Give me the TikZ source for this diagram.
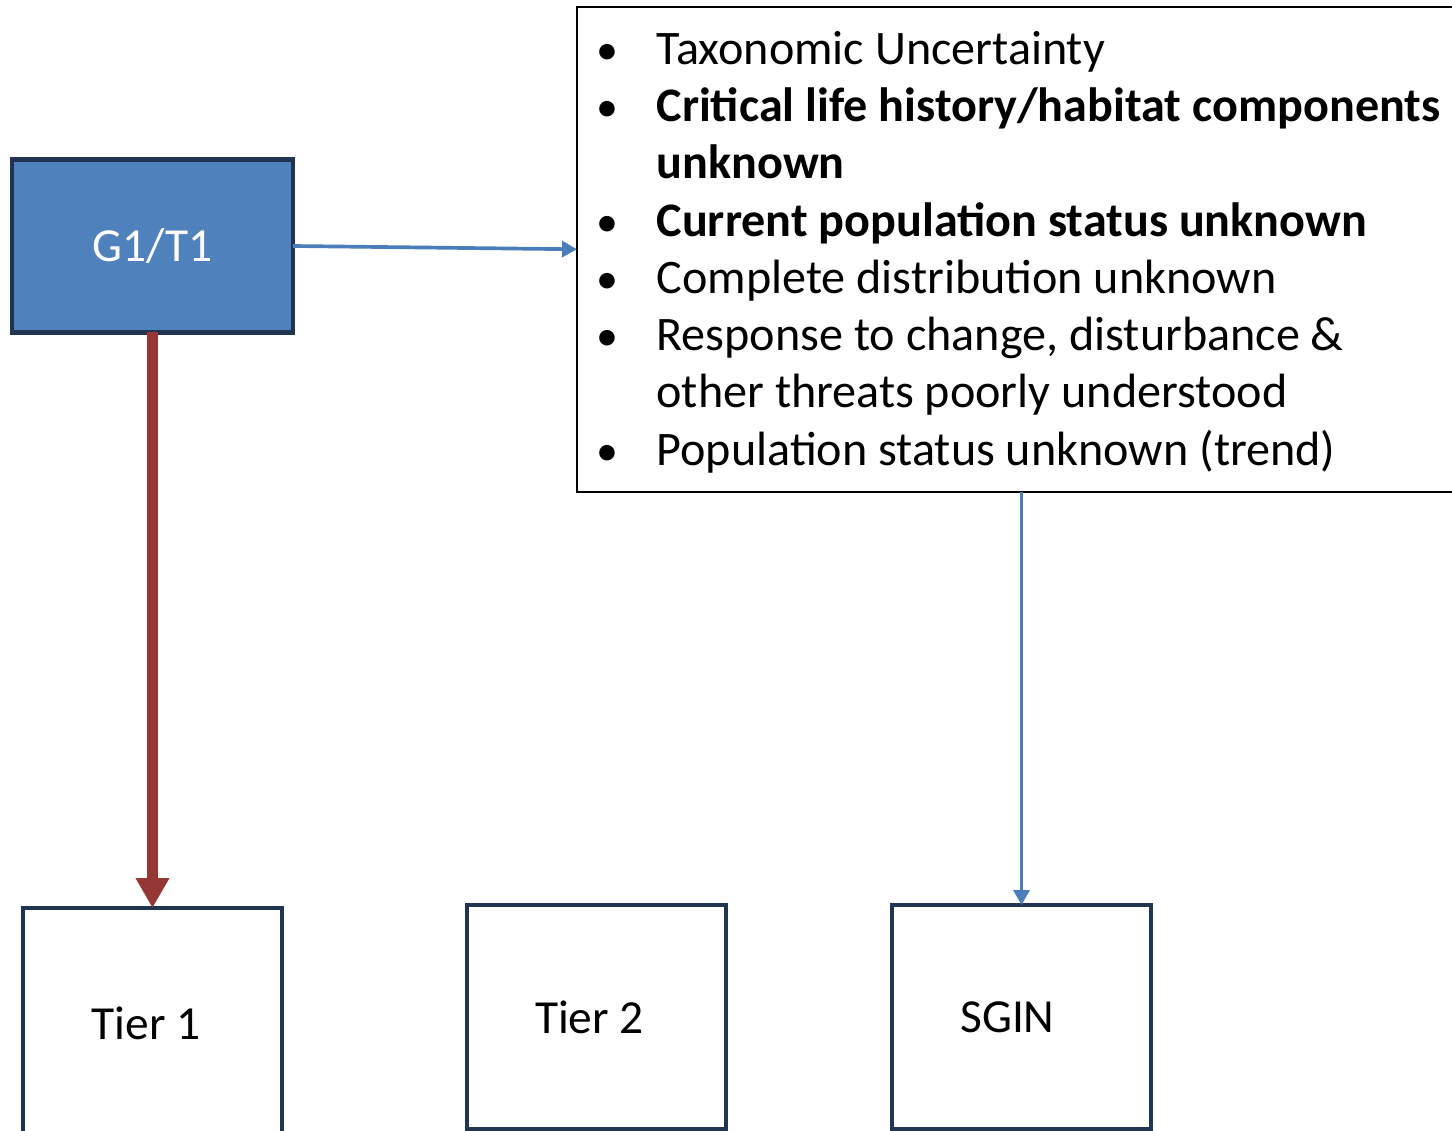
\documentclass[tikz,border=0pt]{standalone}
\usepackage{fontspec}
\setmainfont{Carlito}
\usepackage{array}
\usetikzlibrary{arrows.meta}

\definecolor{boxfill}{HTML}{4F81BD}
\definecolor{boxline}{HTML}{1F3552}
\definecolor{linkblue}{HTML}{4A7EBB}
\definecolor{tierred}{HTML}{953735}

\newcommand{\blt}{{\fontsize{25}{25}\selectfont\textbullet}}

\tikzset{
    tierbox/.style={draw=boxline, line width=2.6pt, rectangle, outer sep=0pt,
        minimum width=5.18cm, font=\fontsize{27}{32}\selectfont},
    rankbox/.style={tierbox, fill=boxfill, text=white,
        minimum width=5.62cm, minimum height=3.46cm},
    listbox/.style={draw=black, line width=1.1pt, rectangle, outer sep=0pt,
        inner xsep=11.3pt, inner ysep=7.5pt, anchor=north west,
        font=\fontsize{27.4}{32.6}\selectfont},
    bluelink/.style={draw=linkblue, line width=2.1pt,
        -{Triangle[width=9pt, length=8.5pt]}},
    redlink/.style={draw=tierred, line width=5.7pt,
        -{Triangle[width=18pt, length=17pt]}}
}

\begin{document}
\begin{tikzpicture}[x=0.02cm, y=-0.02cm]
    \useasboundingbox (0,0) rectangle (1452,1131);
    \clip (0,0) rectangle (1452,1131);

    % Nodes
    \node[rankbox] (G) at (152.5,246) {G1/T1};
    \node[listbox] (F) at (577,7) {\raisebox{-2.3pt}[\height][\depth]{%
        \renewcommand{\arraystretch}{1}%
        \begin{tabular}{@{}>{\raggedright}p{34pt}@{}>{\raggedright\arraybackslash}p{470pt}@{}}
        \blt & Taxonomic Uncertainty\\
        \blt & \textbf{Critical life history/habitat components}\newline\textbf{unknown}\\
        \blt & \textbf{Current population status unknown}\\
        \blt & Complete distribution unknown\\
        \blt & Response to change, disturbance \&\newline other threats poorly understood\\
        \blt & Population status unknown (trend)\\
        \end{tabular}}};
    \node[tierbox, minimum height=4.62cm] (T1) at (152.5,1023.5) {Tier 1\hspace*{7pt}};
    \node[tierbox, minimum height=4.48cm] (T2) at (596.5,1017) {Tier 2\hspace*{8pt}};
    \node[tierbox, minimum height=4.48cm] (S) at (1021.5,1017) {SGIN\hspace*{16pt}};

    % Arrows
    \draw[bluelink] (G.east) -- (F.west);
    \draw[redlink] (G.south) -- (T1.north);
    \draw[bluelink] (F.south -| S.north) -- (S.north);

\end{tikzpicture}
\end{document}
